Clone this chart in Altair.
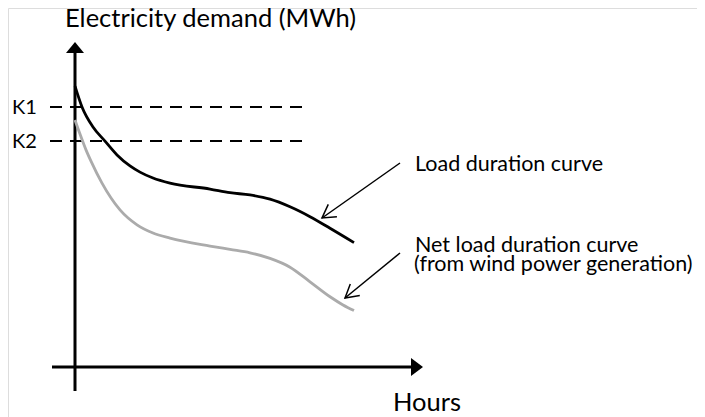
import math
import altair as alt
import pandas as pd

# ---------------- data ----------------
load_hours = [0, 220, 565, 942, 1319, 1727, 2041, 2449, 2983, 4239, 4867, 5495, 6123, 6751, 7379, 8007, 8760]
load_demand = [99.6, 92.2, 85.1, 80.1, 75.2, 71.3, 69.1, 67.0, 65.2, 63.1, 61.8, 61.0, 59.5, 56.8, 53.3, 49.2, 44.1]
net_hours = [0, 157, 345, 502, 848, 1413, 1947, 2449, 2983, 4239, 4867, 5495, 6123, 6751, 7379, 8007, 8415, 8760]
net_demand = [87.6, 82.6, 77.0, 73.0, 65.2, 55.7, 50.4, 47.5, 45.7, 42.9, 41.7, 40.5, 38.5, 35.4, 30.2, 24.9, 22.0, 20.0]

k_labels = ["K1", "K2"]
k_values = [92.2, 80.1]

series_names = ["Load duration curve", "Net load duration curve"]

# ---------------- layout (pixel anchors of the reference) ----------------
W, H = 689, 409           # drawing area
X0_PX, Y0_PX = 75, 367    # origin of the drawn axes on the page
PX_PER_HOUR = 279 / 8760
PX_PER_MWH = 2.82


def hx(px):   # page x pixel -> hours
    return (px - X0_PX) / PX_PER_HOUR


def dy(py):   # page y pixel -> demand
    return (Y0_PX - py) / PX_PER_MWH


xscale = alt.Scale(domain=[hx(8), hx(8 + W)], nice=False, zero=False)
yscale = alt.Scale(domain=[dy(8 + H), dy(8)], nice=False, zero=False)

X = lambda f: alt.X(f, type="quantitative", scale=xscale, axis=None)
Y = lambda f: alt.Y(f, type="quantitative", scale=yscale, axis=None)

# curves
rows = []
for n, (hs, ds) in zip(series_names, [(load_hours, load_demand), (net_hours, net_demand)]):
    for h, d in zip(hs, ds):
        rows.append({"series": n, "hours": h, "demand": d})
curves_df = pd.DataFrame(rows)

curves = alt.Chart(curves_df).mark_line(strokeWidth=2.8, interpolate="monotone").encode(
    x=X("hours"), y=Y("demand"),
    color=alt.Color("series:N", scale=alt.Scale(domain=series_names, range=["#000000", "#ababab"]), legend=None),
)

# axis lines
axes_df = pd.DataFrame([
    {"x": 0, "x2": 0, "y": dy(391), "y2": dy(52)},
    {"x": hx(52), "x2": hx(412), "y": 0, "y2": 0},
])
axes = alt.Chart(axes_df).mark_rule(strokeWidth=3, color="black").encode(
    x=X("x"), x2="x2", y=Y("y"), y2="y2")

yhead = alt.Chart(pd.DataFrame([{"x": 0, "y": dy(42)}])).mark_point(
    shape="M0,0L0.9,1.1L-0.9,1.1Z", size=400, filled=True, color="black", opacity=1, strokeWidth=0
).encode(x=X("x"), y=Y("y"))
xhead = alt.Chart(pd.DataFrame([{"x": hx(423), "y": 0}])).mark_point(
    shape="M0,0L-1.2,-0.9L-1.2,0.9Z", size=400, filled=True, color="black", opacity=1, strokeWidth=0
).encode(x=X("x"), y=Y("y"))

# dashed K lines
k_df = pd.DataFrame({"label": k_labels, "y": k_values, "x": hx(50), "x2": hx(310)})
kl = alt.Chart(k_df).mark_rule(strokeWidth=2, color="black", strokeDash=[12, 8]).encode(
    x=X("x"), x2="x2", y=Y("y"))
kt = alt.Chart(k_df).mark_text(align="left", baseline="middle", font="Lato", fontSize=20, color="black", dy=1).encode(
    x=alt.value(12 - 8), y=Y("y"), text="label:N")

# annotation arrows
ann = pd.DataFrame([
    {"x": hx(400), "y": dy(163), "x2": hx(322), "y2": dy(218)},
    {"x": hx(400), "y": dy(253), "x2": hx(345), "y2": dy(298)},
])
ann["angle"] = [
    math.degrees(math.atan2(-(r.y - r.y2) * PX_PER_MWH, (r.x - r.x2) * PX_PER_HOUR)) % 360
    for r in ann.itertuples()
]
shafts = alt.Chart(ann).mark_rule(strokeWidth=1.5, color="black").encode(
    x=X("x"), x2="x2", y=Y("y"), y2="y2")
heads = alt.Chart(ann).mark_point(
    shape="M1.73,-1L0,0L1.73,1", size=225, filled=False, color="black", opacity=1, strokeWidth=1.5
).encode(x=X("x2"), y=Y("y2"), angle=alt.Angle("angle:Q", scale=None))

# texts
texts_df = pd.DataFrame([
    {"t": "Electricity demand (MWh)", "x": hx(65), "y": dy(27), "fs": 25.5},
    {"t": "Hours", "x": hx(393), "y": dy(411), "fs": 25.5},
    {"t": "Load duration curve", "x": hx(415), "y": dy(171), "fs": 21.5},
    {"t": "Net load duration curve", "x": hx(415), "y": dy(252), "fs": 21.5},
    {"t": "(from wind power generation)", "x": hx(414), "y": dy(271), "fs": 21.5},
])
texts = alt.Chart(texts_df).mark_text(align="left", baseline="alphabetic", font="Lato", color="black").encode(
    x=X("x"), y=Y("y"), text="t:N", size=alt.Size("fs:Q", scale=None))

chart = alt.layer(axes, yhead, xhead, kl, kt, curves, shafts, heads, texts).properties(
    width=W, height=H, padding=0, autosize="none"
).configure_view(stroke=None).configure(background="white")

chart.save("out.html", embed_options={"renderer": "svg", "actions": False})
